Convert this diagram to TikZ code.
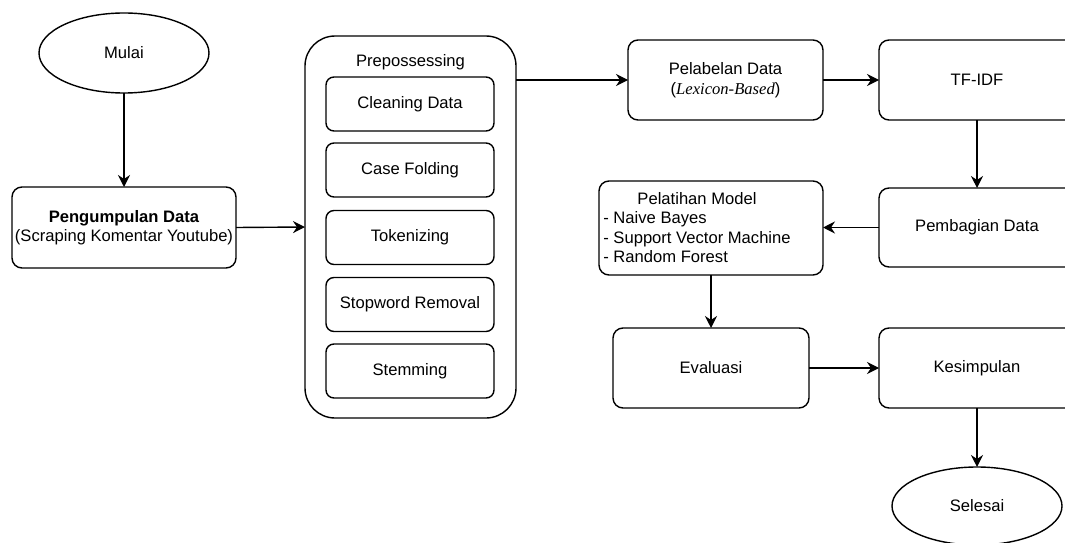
\documentclass[tikz,border=0pt]{standalone}
\usepackage{fontspec}
\setmainfont{Liberation Sans}
\newfontfamily\serifit{Liberation Serif}
\usetikzlibrary{arrows.meta,shapes.geometric}
\begin{document}
\begin{tikzpicture}[x=1pt,y=-1pt,
  font=\fontsize{16.6}{19.5}\selectfont,
  every node/.style={inner sep=0pt, outer sep=0pt},
  box/.style={draw, line width=1.4pt, rounded corners=10pt, align=center},
  stage/.style={box, minimum width=196pt, minimum height=80pt},
  substep/.style={box, rounded corners=8pt, minimum width=168pt, minimum height=54pt},
  terminal/.style={draw, line width=1.4pt, ellipse, minimum width=170pt, minimum height=80pt},
  flow/.style={draw, line width=1.4pt, -{Stealth[length=12pt,width=12pt,inset=4pt]}}
]
\path[use as bounding box, clip] (0,0) rectangle (1065,543);
\fill[white] (0,0) rectangle (1065,543);

% left column
\node[terminal] (mulai) at (124,53) {Mulai};
\node[box, minimum width=224pt, minimum height=81pt] (peng) at (124,227.5)
  {\textbf{Pengumpulan Data}\\(Scraping Komentar Youtube)};

% preprocessing group
\node[box, rounded corners=30pt, minimum width=211pt, minimum height=382pt] (prep) at (410.5,227) {};
\node (preptitle) at (410.5,62) {Prepossessing};
\node[substep] (clean) at (410,104) {Cleaning Data};
\node[substep] (case) at (410,170) {Case Folding};
\node[substep] (token) at (410,237.5) {Tokenizing};
\node[substep] (stop) at (410,304.5) {Stopword Removal};
\node[substep] (stem) at (410,371) {Stemming};

% right part
\node[stage, minimum width=195pt] (pel) at (725.5,80)
  {Pelabelan Data\\({\serifit\itshape Lexicon-Based})};
\node[stage] (tfidf) at (977,80) {TF-IDF};
\node[stage, minimum height=79pt] (pemb) at (977,227.5) {Pembagian Data};
\node[box, minimum width=224pt, minimum height=94pt] (pelat) at (711,228) {};
\node (pelattext) at (697,229.5) {\begin{tabular}{@{}l@{}}
  \multicolumn{1}{@{}c@{}}{Pelatihan Model}\\
  - Naive Bayes\\
  - Support Vector Machine\\
  - Random Forest
\end{tabular}};
\node[stage] (eval) at (711,368) {Evaluasi};
\node[stage] (kes) at (977,368) {Kesimpulan};
\node[terminal, minimum height=78pt] (selesai) at (977,506) {Selesai};

% connectors
\draw[flow] (mulai.south) -- (peng.north);
\draw[flow] (peng.east) -- (prep.west);
\draw[flow] (prep.east |- pel.west) -- (pel.west);
\draw[flow] (pel.east) -- (tfidf.west);
\draw[flow] (tfidf.south) -- (pemb.north);
\draw[flow] (pemb.west) -- (pemb.west -| pelat.east);
\draw[flow] (pelat.south) -- (eval.north);
\draw[flow] (eval.east) -- (kes.west);
\draw[flow] (kes.south) -- (selesai.north);
\end{tikzpicture}
\end{document}
